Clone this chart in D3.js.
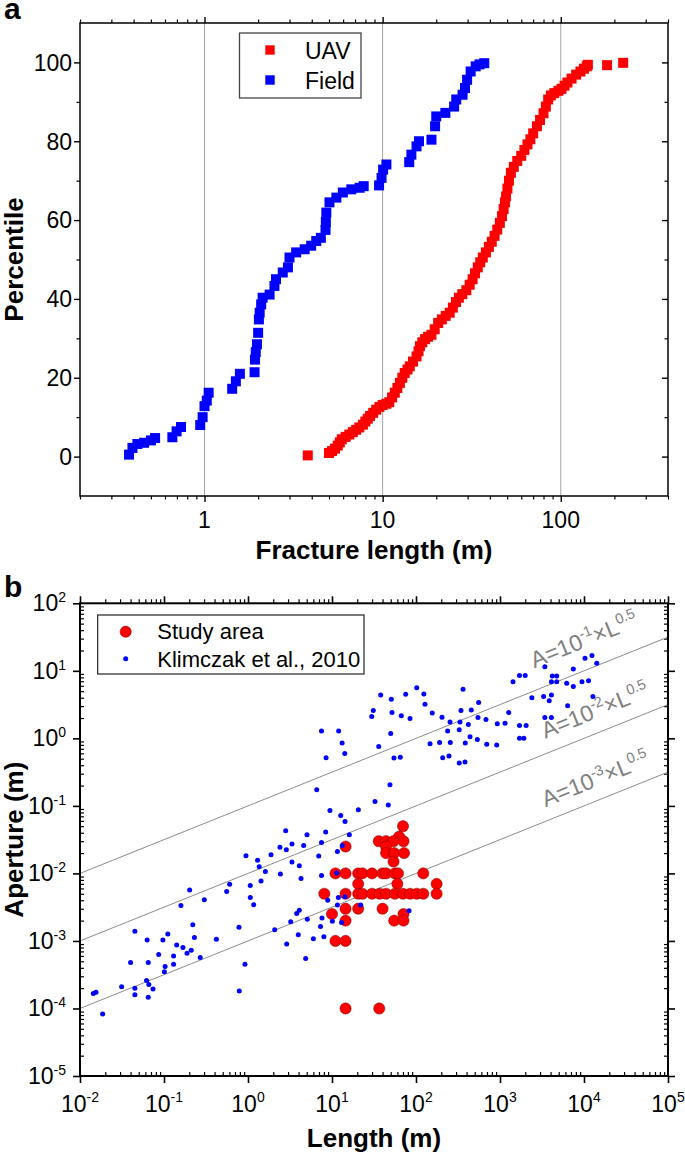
<!DOCTYPE html>
<html><head><meta charset="utf-8">
<script src="https://cdn.jsdelivr.net/npm/d3@7/dist/d3.min.js"></script>
<style>html,body{margin:0;padding:0;background:#fff}svg{display:block}</style>
</head><body>
<svg id="chart" width="685" height="1155"></svg>
<script>
// ---------------- Panel a data ----------------
const uavLength = [3.8,5.0,5.2,5.4,5.6,5.75,5.9,6.2,6.5,6.8,7.1,7.4,7.75,8.0,8.25,8.5,8.85,9.2,9.6,10.0,10.5,10.9,11.3,11.7,12.1,12.5,12.9,13.3,13.8,14.2,14.8,15.5,15.9,16.2,16.7,17.3,18.0,18.8,19.6,20.5,21.5,22.6,23.8,24.8,25.8,26.8,28.0,29.5,30.8,32.0,33.0,34.2,35.3,36.5,38.0,39.5,41.0,42.5,44.0,45.5,46.8,47.8,48.6,49.3,50.2,51.2,52.5,54.5,57.0,60.0,62.5,65.0,67.5,70.0,73.5,76.5,80.0,82.5,85.0,88.0,92.0,97.0,101,105,109,115,122,129,135,140,142,182,224];
const uavPercentile = [0.3,0.9,1.4,2.0,2.8,3.6,4.4,5.0,5.6,6.2,6.8,7.4,8.1,8.9,9.6,10.3,11.1,11.9,12.6,13.1,13.4,13.8,15.0,16.2,17.4,18.7,20.0,21.2,22.1,22.9,24.1,25.4,26.7,28.0,29.0,29.8,30.4,30.9,32.3,33.9,34.8,35.7,36.5,37.8,39.2,40.3,41.2,42.2,43.6,45.0,46.5,48.0,49.3,50.5,51.8,53.2,54.5,56.0,57.6,59.3,61.0,62.8,64.5,66.0,68.0,70.0,72.0,73.5,75.0,76.3,77.8,79.2,80.5,82.0,83.8,85.4,87.1,88.8,90.6,91.6,92.2,92.8,93.3,94.1,94.9,95.9,96.9,97.7,98.4,99.0,99.4,99.3,99.9];
const fieldLength = [0.377,0.394,0.42,0.458,0.50,0.528,0.66,0.697,0.738,0.946,0.976,1.0,1.03,1.055,1.43,1.5,1.58,1.91,1.92,1.94,1.97,2.0,2.02,2.04,2.08,2.12,2.32,2.47,2.52,2.75,2.94,3.0,3.27,3.65,3.97,4.24,4.5,4.78,4.8,4.83,5.03,5.5,5.98,6.67,7.43,7.83,9.55,9.86,10.06,10.5,14.1,14.5,15.5,16.0,18.8,19.7,20.0,22.5,25.2,25.9,28.1,29.0,29.8,31.2,33.3,35,37.2];
const fieldPercentile = [0.5,2.2,3.2,3.5,4.1,4.7,4.9,6.4,7.5,8,10,12.8,14.2,16.2,17.2,19.1,21,21.4,24.6,26.5,28.5,31.4,34.8,36.5,38.6,40.3,41.1,43.3,45,46.7,48,50.5,51.8,52.6,53.5,54.7,55.5,57.5,59.5,61.9,64.5,65.7,67,67.8,68.2,68.6,68.8,70.7,72.8,74.1,74.7,76.6,78.7,80,80.4,83.8,86.3,87.2,88.8,90.6,91.8,93.5,95.6,97.7,99,99.5,99.8];
const panelASeries = ["UAV","Field"];
const panelAXDomain = [0.2, 400];
const panelAYDomain = [-10, 110];
const panelAXTicks = [1, 10, 100];
const panelAXTickLabels = ["1", "10", "100"];
const panelAYTicks = [0, 20, 40, 60, 80, 100];
const panelAYMinor = [10, 30, 50, 70, 90];

// ---------------- Panel b data ----------------
const studyLength = [70,63,36,44,54,71,14.5,44,44,55,72,54,11,14.5,20.5,23,30,40,44,56,61,122,20.5,60,176,8.1,14.5,20.5,23,30,37,44,56,70,85,102,122,176,14.5,20.5,40,10,71,14.5,55,71,11,14.5,14.5,36.5];
const studyAperture = [0.05,0.035,0.03,0.03,0.03,0.03,0.025,0.025,0.02,0.02,0.02,0.015,0.01,0.01,0.01,0.01,0.01,0.01,0.01,0.01,0.01,0.01,0.007,0.007,0.007,0.005,0.005,0.005,0.005,0.005,0.005,0.005,0.005,0.005,0.005,0.005,0.005,0.005,0.003,0.003,0.003,0.0025,0.0025,0.002,0.002,0.002,0.001,0.001,0.0001,0.0001];
const klimLength = [
 0.0144,0.0155,0.0186,0.0313,0.040,0.045,0.045,0.045,0.063,0.065,0.062,0.066,0.065,0.074,0.0865,0.097,0.103,0.101,0.111,0.130,0.130,0.1415,0.159,0.168,0.188,0.202,0.211,0.22,0.23,0.27,0.302,0.42,0.557,0.605,0.781,0.787,0.92,0.946,1.064,1.064,1.17,1.30,1.36,1.43,1.61,1.88,2.08,2.40,2.43,2.81,2.86,2.89,3.22,3.34,3.34,3.80,3.97,4.08,4.08,4.28,4.6,4.86,5.04,5.08,
 6.58,49.0,9.46,12.7,14.3,20.6,32.5,46.8,8.4,16.1,7.5,13.3,11.6,6.95,7.5,11.4,8.9,11.9,14.3,11.6,22,82.6,7.6,10.1,13.0,7.3,8.0,6.0,
 7.5,12.0,13.2,8.5,14.2,36,50,54.7,65,29.7,31,38,50.8,51.8,66.8,84.9,75.4,102,124,128,156,204,254,238,327,334,343,363,420,455,557,547,681,440,537,695,914,929,1148,1270,147,191,256,386,208,247,327,383,
 1706,1924,1706,2046,1429,1706,1995,2393,3304,3855,4093,3420,4093,3420,4093,4197,4732,4732,6383,6223,7464,7464,9462,11320,10280,12450,12760,14190];
const klimAperture = [
 1.66e-4,1.74e-4,8.3e-5,2.1e-4,4.8e-4,1.39e-3,2.0e-4,1.59e-4,1.03e-3,4.8e-4,2.6e-4,2.26e-4,1.47e-4,1.95e-4,6.3e-4,1.03e-3,4.2e-4,3.5e-4,1.27e-3,6.0e-4,4.5e-4,8.7e-4,3.36e-3,8.0e-4,6.6e-4,5.7e-3,7.3e-4,1.74e-3,1.12e-3,5.7e-4,4.08e-3,1.06e-3,5.4e-3,6.9e-3,1.59e-3,1.82e-4,4.5e-4,1.83e-2,6.6e-3,4.4e-3,3.44e-3,1.56e-2,1.26e-2,7.7e-3,1.07e-2,1.89e-2,1.46e-3,2.43e-2,9.8e-3,4.28e-2,2.24e-2,9.0e-4,1.93e-3,2.72e-2,1.47e-2,2.56e-3,1.23e-3,1.30e-2,2.84e-3,8.4e-3,2.6e-2,5.5e-4,3.73e-2,2.09e-3,
 0.173,0.205,0.0855,0.0721,0.0588,0.0875,0.116,0.103,0.041,0.0373,0.0288,0.026,0.0211,0.0181,9.3e-3,0.0101,4.0e-3,4.4e-3,4.5e-3,3.4e-3,3.4e-3,2.8e-3,2.19e-3,1.95e-3,1.88e-3,1.64e-3,1.15e-3,1.08e-3,
 1.28,1.28,0.85,0.515,0.596,0.757,1.18,0.51,0.527,2.1,2.58,4.4,3.8,2.41,2.17,1.96,4.5,5.6,4.55,3.2,2.38,2.06,1.74,1.29,1.34,1.74,2.58,5.35,1.6,2.64,3.39,2.03,1.9,1.06,0.96,0.82,0.80,1.64,1.68,2.41,0.83,0.87,0.87,0.85,0.515,0.55,0.43,0.445,
 1.0,1.0,1.55,1.55,6.9,8.5,8.5,4.0,4.15,3.59,4.4,2.03,2.03,11.5,6.9,8.4,8.4,6.9,3.05,6.56,5.84,10.6,6.9,7.1,15.4,16.8,4.15,12.9];
const panelBSeries = ["Study area", "Klimczak et al., 2010"];
const panelBXExponents = [-2,-1,0,1,2,3,4,5];
const panelBYExponents = [-5,-4,-3,-2,-1,0,1,2];
const lineCoefficients = [1e-1, 1e-2, 1e-3];
const lineCoefLabels = ["-1", "-2", "-3"];
const lineExponent = 0.5;

// ---------------- drawing ----------------
const FONT = "'Liberation Sans', Arial, Helvetica, sans-serif";
const svg = d3.select("#chart").attr("font-family", FONT);

function minorLog(dom) {
  const out = [];
  const k0 = Math.floor(Math.log10(dom[0])) - 1, k1 = Math.ceil(Math.log10(dom[1]));
  for (let k = k0; k <= k1; k++) for (let m = 2; m <= 9; m++) {
    const v = m * Math.pow(10, k);
    if (v >= dom[0] * 0.9999 && v <= dom[1] * 1.0001) out.push(v);
  }
  return out;
}
function ticks(g, gen, w) {
  g.call(gen);
  g.select(".domain").remove();
  g.selectAll("text").remove();
  g.selectAll("line").attr("stroke", "#000").attr("stroke-width", w);
}

// ===== Panel a =====
const PA = {l: 80, r: 668, t: 23, b: 496};
const xa = d3.scaleLog().domain(panelAXDomain).range([PA.l, PA.r]);
const ya = d3.scaleLinear().domain(panelAYDomain).range([PA.b, PA.t]);
const ga = svg.append("g");

ga.selectAll("line.grid").data(panelAXTicks).join("line")
  .attr("x1", d => xa(d)).attr("x2", d => xa(d)).attr("y1", PA.t).attr("y2", PA.b)
  .attr("stroke", "#a4a4a4").attr("stroke-width", 1);

const aMinor = minorLog(panelAXDomain);
ticks(ga.append("g").attr("transform", `translate(0,${PA.b})`), d3.axisBottom(xa).tickValues(panelAXTicks).tickSize(6).tickFormat(""), 1.4);
ticks(ga.append("g").attr("transform", `translate(0,${PA.b})`), d3.axisBottom(xa).tickValues(aMinor).tickSize(3.5).tickFormat(""), 1.2);
ticks(ga.append("g").attr("transform", `translate(0,${PA.t})`), d3.axisTop(xa).tickValues(panelAXTicks).tickSize(6).tickFormat(""), 1.4);
ticks(ga.append("g").attr("transform", `translate(0,${PA.t})`), d3.axisTop(xa).tickValues(aMinor).tickSize(3.5).tickFormat(""), 1.2);
ticks(ga.append("g").attr("transform", `translate(${PA.l},0)`), d3.axisLeft(ya).tickValues(panelAYTicks).tickSize(6).tickFormat(""), 1.4);
ticks(ga.append("g").attr("transform", `translate(${PA.l},0)`), d3.axisLeft(ya).tickValues(panelAYMinor).tickSize(3.5).tickFormat(""), 1.2);
ticks(ga.append("g").attr("transform", `translate(${PA.r},0)`), d3.axisRight(ya).tickValues(panelAYTicks).tickSize(-6).tickFormat(""), 1.4);
ticks(ga.append("g").attr("transform", `translate(${PA.r},0)`), d3.axisRight(ya).tickValues(panelAYMinor).tickSize(-3.5).tickFormat(""), 1.2);

ga.append("rect").attr("x", PA.l).attr("y", PA.t).attr("width", PA.r - PA.l).attr("height", PA.b - PA.t)
  .attr("fill", "none").attr("stroke", "#000").attr("stroke-width", 1.5);

ga.selectAll("text.yt").data(panelAYTicks).join("text")
  .attr("x", 72).attr("y", d => ya(d)).attr("dy", "0.36em").attr("text-anchor", "end")
  .attr("font-size", 23).text(d => d);
ga.selectAll("text.xt").data(panelAXTicks).join("text")
  .attr("x", d => xa(d)).attr("y", 528).attr("text-anchor", "middle")
  .attr("font-size", 23).text((d, i) => panelAXTickLabels[i]);

const SQ = 10;
ga.append("g").selectAll("rect").data(d3.range(uavLength.length)).join("rect")
  .attr("x", i => xa(uavLength[i]) - SQ / 2).attr("y", i => ya(uavPercentile[i]) - SQ / 2)
  .attr("width", SQ).attr("height", SQ).attr("fill", "#ff0000");
ga.append("g").selectAll("rect").data(d3.range(fieldLength.length)).join("rect")
  .attr("x", i => xa(fieldLength[i]) - SQ / 2).attr("y", i => ya(fieldPercentile[i]) - SQ / 2)
  .attr("width", SQ).attr("height", SQ).attr("fill", "#0000ff");

// legend a
const la = ga.append("g");
la.append("rect").attr("x", 239.5).attr("y", 33).attr("width", 121.5).attr("height", 65)
  .attr("fill", "#fff").attr("stroke", "#444").attr("stroke-width", 1.3);
[["#ff0000", 50, 59.3], ["#0000ff", 80, 88.8]].forEach((c, i) => {
  la.append("rect").attr("x", 270 - 4.7).attr("y", c[1] - 4.7).attr("width", 9.4).attr("height", 9.4).attr("fill", c[0]);
  la.append("text").attr("x", 305).attr("y", c[2]).attr("font-size", 23).text(panelASeries[i]);
});

ga.append("text").attr("transform", `translate(22.5,${(PA.t + PA.b) / 2}) rotate(-90)`)
  .attr("text-anchor", "middle").attr("font-weight", "bold").attr("font-size", 26).text("Percentile");
ga.append("text").attr("x", (PA.l + PA.r) / 2).attr("y", 559).attr("text-anchor", "middle")
  .attr("font-weight", "bold").attr("font-size", 26).text("Fracture length (m)");
svg.append("text").attr("x", 4).attr("y", 19).attr("font-weight", "bold").attr("font-size", 30).text("a");

// ===== Panel b =====
const PB = {l: 80, r: 668, t: 603.3, b: 1076};
const xb = d3.scaleLog().domain([Math.pow(10, panelBXExponents[0]), Math.pow(10, panelBXExponents[panelBXExponents.length - 1])]).range([PB.l, PB.r]);
const yb = d3.scaleLog().domain([Math.pow(10, panelBYExponents[0]), Math.pow(10, panelBYExponents[panelBYExponents.length - 1])]).range([PB.b, PB.t]);
const gb = svg.append("g");
const bxMajor = panelBXExponents.map(e => Math.pow(10, e));
const byMajor = panelBYExponents.map(e => Math.pow(10, e));
const bxMinor = minorLog(xb.domain());
const byMinor = minorLog(yb.domain());

ticks(gb.append("g").attr("transform", `translate(0,${PB.b})`), d3.axisBottom(xb).tickValues(bxMajor).tickSize(7).tickFormat(""), 1.6);
ticks(gb.append("g").attr("transform", `translate(0,${PB.b})`), d3.axisBottom(xb).tickValues(bxMinor).tickSize(-4).tickFormat(""), 1.2);
ticks(gb.append("g").attr("transform", `translate(0,${PB.t})`), d3.axisTop(xb).tickValues(bxMajor).tickSize(7).tickFormat(""), 1.6);
ticks(gb.append("g").attr("transform", `translate(0,${PB.t})`), d3.axisTop(xb).tickValues(bxMinor).tickSize(4).tickFormat(""), 1.2);
ticks(gb.append("g").attr("transform", `translate(${PB.l},0)`), d3.axisLeft(yb).tickValues(byMajor).tickSize(7).tickFormat(""), 1.6);
ticks(gb.append("g").attr("transform", `translate(${PB.l},0)`), d3.axisLeft(yb).tickValues(byMinor).tickSize(-4).tickFormat(""), 1.2);
ticks(gb.append("g").attr("transform", `translate(${PB.r},0)`), d3.axisRight(yb).tickValues(byMajor).tickSize(7).tickFormat(""), 1.6);
ticks(gb.append("g").attr("transform", `translate(${PB.r},0)`), d3.axisRight(yb).tickValues(byMinor).tickSize(-4).tickFormat(""), 1.2);

// reference lines A = c * L^0.5
const lineGen = d3.line().x(d => xb(d[0])).y(d => yb(d[1]));
const Lends = xb.domain();
gb.append("g").selectAll("path").data(lineCoefficients).join("path")
  .attr("d", c => lineGen(Lends.map(L => [L, c * Math.pow(L, lineExponent)])))
  .attr("fill", "none").attr("stroke", "#8c8c8c").attr("stroke-width", 1);

gb.append("rect").attr("x", PB.l).attr("y", PB.t).attr("width", PB.r - PB.l).attr("height", PB.b - PB.t)
  .attr("fill", "none").attr("stroke", "#000").attr("stroke-width", 2);

// line labels
const angle = Math.atan2(-(yb(lineCoefficients[0] * Math.pow(Lends[1], lineExponent)) - yb(lineCoefficients[0] * Math.pow(Lends[0], lineExponent))), xb(Lends[1]) - xb(Lends[0])) * 180 / Math.PI;
const labelL = [Math.pow(10, 3.5), Math.pow(10, 3.6), Math.pow(10, 3.6)];
const labelGap = [21, 14, 13];
lineCoefficients.forEach((c, i) => {
  const L0 = labelL[i];
  const t = gb.append("text")
    .attr("transform", `translate(${xb(L0)},${yb(c * Math.pow(L0, lineExponent))}) rotate(${-angle})`)
    .attr("x", 0).attr("y", -labelGap[i]).attr("font-size", 23).attr("fill", "#808080");
  t.append("tspan").text("A=10");
  t.append("tspan").attr("font-size", 14.5).attr("dy", -9.5).text(lineCoefLabels[i]);
  t.append("tspan").attr("dy", 9.5).text("\u00d7L");
  t.append("tspan").attr("font-size", 14.5).attr("dy", -9.5).text(String(lineExponent));
});

// data
gb.append("g").selectAll("circle").data(d3.range(studyLength.length)).join("circle")
  .attr("cx", i => xb(studyLength[i])).attr("cy", i => yb(studyAperture[i])).attr("r", 5.6)
  .attr("fill", "#ff0000").attr("stroke", "#7a0000").attr("stroke-width", 0.5);
gb.append("g").selectAll("circle").data(d3.range(klimLength.length)).join("circle")
  .attr("cx", i => xb(klimLength[i])).attr("cy", i => yb(klimAperture[i])).attr("r", 2.5)
  .attr("fill", "#0000ff");

// tick labels
panelBYExponents.forEach(e => {
  const t = gb.append("text").attr("x", 66).attr("y", yb(Math.pow(10, e))).attr("dy", 8)
    .attr("text-anchor", "end").attr("font-size", 23);
  t.append("tspan").text("10");
  t.append("tspan").attr("font-size", 14).attr("dy", -9).text(String(e));
});
panelBXExponents.forEach(e => {
  const t = gb.append("text").attr("x", xb(Math.pow(10, e))).attr("y", 1111.5)
    .attr("text-anchor", "middle").attr("font-size", 23);
  t.append("tspan").text("10");
  t.append("tspan").attr("font-size", 14).attr("dy", -9.5).text(String(e));
});

// legend b
const lb = gb.append("g");
lb.append("rect").attr("x", 97.7).attr("y", 615).attr("width", 266.3).attr("height", 59)
  .attr("fill", "#fff").attr("stroke", "#222").attr("stroke-width", 1.2);
lb.append("circle").attr("cx", 125.7).attr("cy", 631.7).attr("r", 5.6).attr("fill", "#ff0000").attr("stroke", "#7a0000").attr("stroke-width", 0.5);
lb.append("circle").attr("cx", 125.7).attr("cy", 658.7).attr("r", 2.5).attr("fill", "#0000ff");
lb.append("text").attr("x", 157.3).attr("y", 639).attr("font-size", 22).text(panelBSeries[0]);
lb.append("text").attr("x", 157.3).attr("y", 666.5).attr("font-size", 22).text(panelBSeries[1]);

gb.append("text").attr("transform", `translate(22.5,${(PB.t + PB.b) / 2}) rotate(-90)`)
  .attr("text-anchor", "middle").attr("font-weight", "bold").attr("font-size", 26).text("Aperture (m)");
gb.append("text").attr("x", (PB.l + PB.r) / 2).attr("y", 1147).attr("text-anchor", "middle")
  .attr("font-weight", "bold").attr("font-size", 26).text("Length (m)");
svg.append("text").attr("x", 4).attr("y", 597).attr("font-weight", "bold").attr("font-size", 30).text("b");
</script>
</body></html>
